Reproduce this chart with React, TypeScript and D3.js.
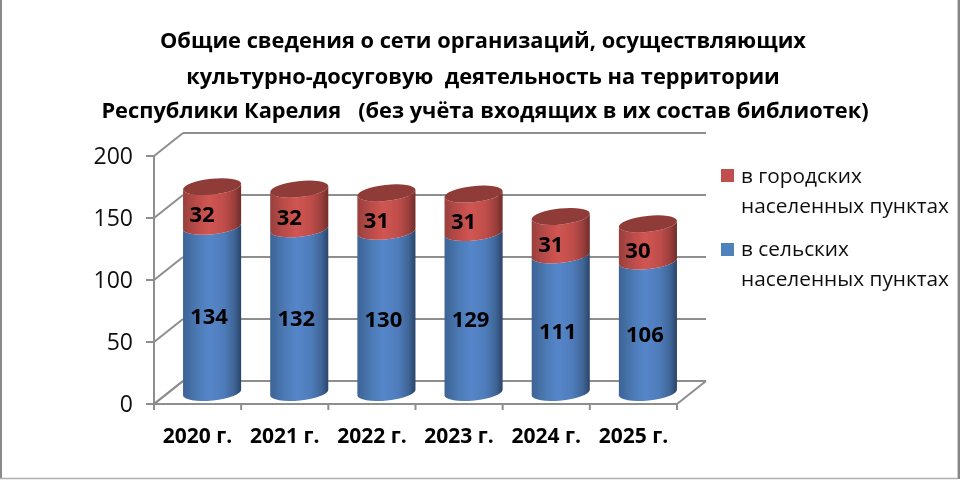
import React from "react";
import * as d3 from "d3";

const titleLines = [
  "Общие сведения о сети организаций, осуществляющих",
  "культурно-досуговую  деятельность на территории",
  "Республики Карелия   (без учёта входящих в их состав библиотек)",
];
const years = ["2020 г.", "2021 г.", "2022 г.", "2023 г.", "2024 г.", "2025 г."];
const rural = [134, 132, 130, 129, 111, 106];
const urban = [32, 32, 31, 31, 31, 30];
const yTicks = [0, 50, 100, 150, 200];
const legendUrban = ["в городских", "населенных пунктах"];
const legendRural = ["в сельских", "населенных пунктах"];

const W = 960, H = 480;
const FONT = "'Open Sans', 'Noto Sans', sans-serif";
const x0 = 154, x1 = 677, yBase = 404, yTop = 156;
const dx = 29, dy = -23;
const GRID = "#8e8e8e";

const x = d3.scaleBand<string>().domain(years).range([x0, x1]).paddingInner(0.33).paddingOuter(0.165);
const y = d3.scaleLinear().domain([0, 200]).range([yBase, yTop]);

const tilt = 6;
const ry = 8;

function App() {
  const rx = x.bandwidth() / 2;
  const tx = rx * Math.cos((tilt * Math.PI) / 180);
  const ty = rx * Math.sin((tilt * Math.PI) / 180);
  const cx = (yr: string) => (x(yr) as number) + rx + dx / 2;
  const cy = (v: number) => y(v) + dy / 2;
  const seg = (c: number, a: number, b: number) =>
    `M${c - tx},${cy(a) + ty} A${rx},${ry} ${-tilt} 0 0 ${c + tx},${cy(a) - ty} L${c + tx},${cy(b) - ty} A${rx},${ry} ${-tilt} 0 1 ${c - tx},${cy(b) + ty} Z`;
  const floor = d3.line()([[x0, yBase], [x0 + dx, yBase + dy]]) as string;

  return (
    <svg width={W} height={H} viewBox={`0 0 ${W} ${H}`} style={{ position: "absolute", left: 0, top: 0, display: "block", background: "#fff" }}>
      <defs>
        <linearGradient id="blue" x1="0" x2="1" y1="0" y2="0">
          <stop offset="0" stopColor="#3c6395" />
          <stop offset="0.25" stopColor="#4c7ab5" />
          <stop offset="0.45" stopColor="#5586ca" />
          <stop offset="0.7" stopColor="#4f7cbb" />
          <stop offset="0.88" stopColor="#3f6698" />
          <stop offset="1" stopColor="#2a4468" />
        </linearGradient>
        <linearGradient id="red" x1="0" x2="1" y1="0" y2="0">
          <stop offset="0" stopColor="#98403d" />
          <stop offset="0.25" stopColor="#bd4c49" />
          <stop offset="0.45" stopColor="#d05552" />
          <stop offset="0.7" stopColor="#c04e4b" />
          <stop offset="0.88" stopColor="#9c3f3c" />
          <stop offset="1" stopColor="#6f2c2a" />
        </linearGradient>
        <filter id="soft" x="0" y="0" width="100%" height="100%">
          <feGaussianBlur stdDeviation="0.4" />
        </filter>
      </defs>
      <g filter="url(#soft)">
      <rect x={0} y={0} width={W} height={H} fill="#fff" />
      <line x1={1} x2={1} y1={0} y2={479} stroke="#8a8a8a" strokeWidth={2} />
      <line x1={958.8} x2={958.8} y1={0} y2={479} stroke="#858585" strokeWidth={2.4} />
      <line x1={0} x2={958} y1={478.5} y2={478.5} stroke="#b0b0b0" strokeWidth={1.5} />

      {yTicks.map((t) => (
        <g key={t} stroke={GRID} strokeWidth={2} fill="none">
          <line x1={x0 - 8} x2={x0} y1={y(t)} y2={y(t)} />
          <line x1={x0} y1={y(t)} x2={x0 + dx} y2={y(t) + dy} />
          <line x1={x0 + dx} y1={y(t) + dy} x2={x1 + dx} y2={y(t) + dy} />
        </g>
      ))}
      <line x1={x0} x2={x0} y1={yTop} y2={yBase + 6} stroke={GRID} strokeWidth={2} />
      <path d={floor} stroke={GRID} strokeWidth={2} fill="none" />
      <line x1={x0} x2={x1} y1={yBase} y2={yBase} stroke={GRID} strokeWidth={2} />
      <line x1={x1} y1={yBase} x2={x1 + dx} y2={yBase + dy} stroke={GRID} strokeWidth={2} />
      {years.map((yr, i) => (
        <line key={yr} x1={x0 + (x.step() * (i + 1))} x2={x0 + (x.step() * (i + 1))} y1={yBase} y2={yBase + 6} stroke={GRID} strokeWidth={2} />
      ))}

      {yTicks.map((t) => (
        <text key={t} x={133} y={y(t)} dy="0.36em" textAnchor="end" fontFamily={FONT} fontSize={23} fill="#111">{t}</text>
      ))}

      {years.map((yr, i) => {
        const c = cx(yr);
        const a = rural[i];
        const b = rural[i] + urban[i];
        return (
          <g key={yr}>
            <path d={seg(c, 0, a)} fill="url(#blue)" />
            <path d={seg(c, a, b)} fill="url(#red)" />
            <ellipse cx={c} cy={cy(b)} rx={rx} ry={ry} transform={`rotate(${-tilt} ${c} ${cy(b)})`} fill="#8f3a38" />
            <text x={c - 3} y={cy(a / 2) + 7} dy="0.36em" textAnchor="middle" fontFamily={FONT} fontWeight={700} fontSize={22} fill="#000">{a}</text>
            <text x={c - 10} y={cy(a + urban[i] / 2) + 8} dy="0.36em" textAnchor="middle" fontFamily={FONT} fontWeight={700} fontSize={22} fill="#000">{urban[i]}</text>
            <text x={(x(yr) as number) + rx} y={443} textAnchor="middle" fontFamily={FONT} fontWeight={700} fontSize={21} fill="#000">{yr}</text>
          </g>
        );
      })}

      {titleLines.map((l, i) => (
        <text key={i} x={[483, 483, 485][i]} y={[48, 84, 118][i]} textAnchor="middle" fontFamily={FONT} fontWeight={700} fontSize={21.8} fill="#000" style={{ whiteSpace: "pre" }}>{l}</text>
      ))}

      <rect x={721} y={169} width={13} height={13} fill="#c0504d" />
      <rect x={721} y={243} width={13} height={13} fill="#4f81bd" />
      {legendUrban.map((l, i) => (
        <text key={l} x={741} y={183 + i * 29.5} fontFamily={FONT} fontSize={20.8} fill="#111">{l}</text>
      ))}
      {legendRural.map((l, i) => (
        <text key={l} x={741} y={256 + i * 29.5} fontFamily={FONT} fontSize={20.8} fill="#111">{l}</text>
      ))}
      </g>
    </svg>
  );
}

export default App;
